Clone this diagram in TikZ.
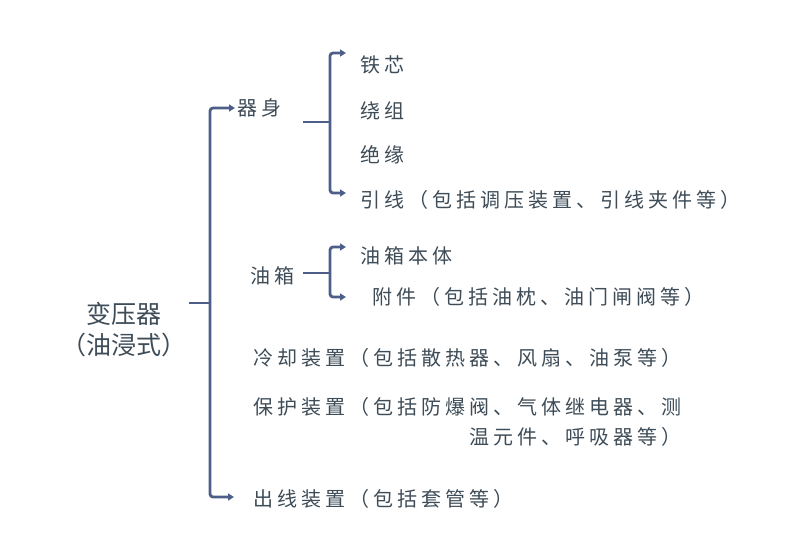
\documentclass[tikz,border=0pt]{standalone}
\usepackage{fontspec}
\setmainfont{Noto Sans CJK SC}
\usetikzlibrary{arrows.meta, positioning}

\definecolor{txtcol}{HTML}{3E4C57}
\definecolor{brkcol}{HTML}{4D5F88}

\tikzset{
    item/.style={anchor=west, inner sep=2pt, text=txtcol,
        font=\fontsize{20}{30}\selectfont\addfontfeatures{LetterSpace=20}},
    rootitem/.style={align=center, inner sep=2pt, text=txtcol,
        font=\fontsize{25}{31}\selectfont},
    brk/.style={draw=brkcol, line width=2.8pt, rounded corners=3pt},
    brkarr/.style={brk, -{Triangle[length=6pt, width=7pt]}}
}

\begin{document}
\begin{tikzpicture}[x=1pt, y=-1pt]

    \useasboundingbox (0,0) rectangle (802,537);

    % Root
    \node[rootitem] (root) at (124,330) {变压器\\（油浸式）};

    % First level
    \node[item] (qishen) at (235,108) {器身};
    \node[item] (youxiang) at (248,276) {油箱};
    \node[item] (lengque) at (251,358) {冷却装置（包括散热器、风扇、油泵等）};
    \node[item, align=right, anchor=north west] (baohu) at (251,395)
        {保护装置（包括防爆阀、气体继电器、测\\温元件、呼吸器等）};
    \node[item] (chuxian) at (251,499) {出线装置（包括套管等）};

    % Second level: qishen
    \node[item] (tiexin) at (358,65) {铁芯};
    \node[item] (raozu) at (358,111) {绕组};
    \node[item] (jueyuan) at (358,155) {绝缘};
    \node[item] (yinxian) at (358,200) {引线（包括调压装置、引线夹件等）};

    % Second level: youxiang
    \node[item] (benti) at (358,256) {油箱本体};
    \node[item] (fujian) at (370,297) {附件（包括油枕、油门闸阀等）};

    % Junctions
    \coordinate (rj) at (210,303);
    \coordinate (cx) at (234,497);
    \coordinate (qj) at (330,122);
    \coordinate (yj) at (330,273);
    \coordinate (tx) at (346,53);
    \coordinate (yx) at (346,193);
    \coordinate (bt) at (346,247);
    \coordinate (fj) at (346,297);

    % Main bracket
    \draw[brk] (root.east |- rj) -- (rj);
    \draw[brkarr] (rj) |- (qishen.west);
    \draw[brkarr] (rj) |- (cx);

    % Bracket of qishen
    \draw[brk] (303,122) -- (qj);
    \draw[brkarr] (qj) |- (tx);
    \draw[brkarr] (qj) |- (yx);

    % Bracket of youxiang
    \draw[brk] (303,273) -- (yj);
    \draw[brkarr] (yj) |- (bt);
    \draw[brkarr] (yj) |- (fj);

\end{tikzpicture}
\end{document}
